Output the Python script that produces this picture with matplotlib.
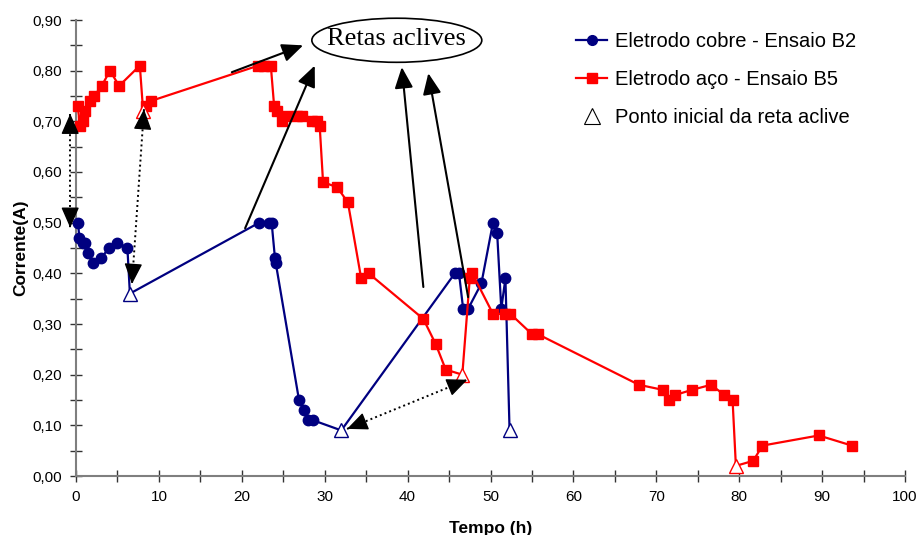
import numpy as np
import matplotlib
matplotlib.use("Agg")
import matplotlib.pyplot as plt
from matplotlib.patches import Ellipse
from matplotlib.ticker import FuncFormatter, MultipleLocator
from matplotlib.lines import Line2D

plt.rcParams['font.family'] = ['Liberation Sans', 'DejaVu Sans']

# Copper electrode (test B2)
cobre_t = [0.25, 0.4, 0.9, 1.1, 1.5, 2.0, 3.0, 4.0, 5.0, 6.2, 6.5,
           22.1, 23.3, 23.6, 24.0, 24.1, 26.9, 27.5, 28.0, 28.6, 32.0,
           45.7, 46.2, 46.7, 47.3, 48.9, 50.3, 50.8, 51.3, 51.8, 52.3]
cobre_i = [0.50, 0.47, 0.46, 0.46, 0.44, 0.42, 0.43, 0.45, 0.46, 0.45, 0.36,
           0.50, 0.50, 0.50, 0.43, 0.42, 0.15, 0.13, 0.11, 0.11, 0.09,
           0.40, 0.40, 0.33, 0.33, 0.38, 0.50, 0.48, 0.33, 0.39, 0.09]
cobre_inicio = [10, 20, 30]   # start points of the rising segments

# Steel electrode (test B5)
aco_t = [0.2, 0.5, 0.8, 1.1, 1.7, 2.2, 3.1, 4.1, 5.2, 7.7, 8.1, 8.5, 9.0,
         22.0, 22.7, 23.5, 23.9, 24.2, 24.9, 25.5, 26.7, 27.3, 28.5, 29.1, 29.4,
         29.8, 31.5, 32.8, 34.4, 35.3, 41.9, 43.4, 44.6, 46.6, 47.5, 47.8,
         50.3, 51.8, 52.4, 55.0, 55.7, 67.9, 70.8, 71.5, 72.3, 74.3, 76.6,
         78.2, 79.2, 79.6, 81.7, 82.8, 89.6, 93.6]
aco_i = [0.73, 0.69, 0.70, 0.72, 0.74, 0.75, 0.77, 0.80, 0.77, 0.81, 0.72, 0.73, 0.74,
         0.81, 0.81, 0.81, 0.73, 0.72, 0.70, 0.71, 0.71, 0.71, 0.70, 0.70, 0.69,
         0.58, 0.57, 0.54, 0.39, 0.40, 0.31, 0.26, 0.21, 0.20, 0.39, 0.40,
         0.32, 0.32, 0.32, 0.28, 0.28, 0.18, 0.17, 0.15, 0.16, 0.17, 0.18,
         0.16, 0.15, 0.02, 0.03, 0.06, 0.08, 0.06]
aco_inicio = [10, 33, 49]

AZUL = '#000080'
VERMELHO = '#ff0000'

fig = plt.figure(figsize=(9.16, 5.35), dpi=100)
ax = fig.add_axes([76 / 916, 1 - 476 / 535, 829 / 916, 456 / 535])


def marcados(n, excl):
    return [k for k in range(n) if k not in excl]


ax.plot(cobre_t, cobre_i, color=AZUL, lw=1.6, marker='o', ms=7.5,
        markevery=marcados(len(cobre_t), cobre_inicio), zorder=3, clip_on=False)
ax.plot(aco_t, aco_i, color=VERMELHO, lw=1.6, marker='s', ms=7.3,
        markevery=marcados(len(aco_t), aco_inicio), zorder=3, clip_on=False)
ax.plot([cobre_t[k] for k in cobre_inicio], [cobre_i[k] for k in cobre_inicio],
        ls='none', marker='^', ms=10, mfc='white', mec=AZUL, mew=1.0, zorder=4)
ax.plot([aco_t[k] for k in aco_inicio], [aco_i[k] for k in aco_inicio],
        ls='none', marker='^', ms=10, mfc='white', mec=VERMELHO, mew=1.0, zorder=4)

ax.set_xlim(0, 100)
ax.set_ylim(0, 0.90)
ax.xaxis.set_major_locator(MultipleLocator(10))
ax.xaxis.set_minor_locator(MultipleLocator(5))
ax.yaxis.set_major_locator(MultipleLocator(0.10))
ax.yaxis.set_minor_locator(MultipleLocator(0.05))
ax.yaxis.set_major_formatter(FuncFormatter(lambda v, p: f"{v:.2f}".replace('.', ',')))
ax.xaxis.set_major_formatter(FuncFormatter(lambda v, p: f"{v:.0f}"))
for s in ('top', 'right'):
    ax.spines[s].set_visible(False)
for s in ('left', 'bottom'):
    ax.spines[s].set_color('#7f7f7f')
    ax.spines[s].set_linewidth(1.5)
ax.tick_params(which='both', direction='inout', length=8, width=1.0, color='#333333',
               labelsize=11, pad=6)
ax.set_xlabel('Tempo (h)', fontsize=12.5, fontweight='bold', labelpad=12)
ax.set_ylabel('Corrente(A)', fontsize=12.5, fontweight='bold', labelpad=3)

cabeca = '-|>,head_length=0.8,head_width=0.35'


def seta_pontilhada(p0, p1):
    """Dotted segment with a solid arrowhead at each end."""
    ax.plot([p0[0], p1[0]], [p0[1], p1[1]], color='black', lw=1.4,
            ls=(0, (1, 1.6)), clip_on=False, zorder=5)
    for ponta, cauda in ((p1, p0), (p0, p1)):
        d_ponta = ax.transData.transform(ponta)
        d_cauda = ax.transData.transform(cauda)
        v = d_cauda - d_ponta
        v = v / np.hypot(*v)
        recuo = ax.transData.inverted().transform(d_ponta + v * 16)
        ax.annotate('', xy=ponta, xytext=recuo, annotation_clip=False, zorder=6,
                    arrowprops=dict(arrowstyle=cabeca, color='black', lw=1.0,
                                    mutation_scale=16, shrinkA=0, shrinkB=0))


# Dotted double-headed arrows linking starting points
seta_pontilhada((-0.7, 0.715), (-0.7, 0.49))
seta_pontilhada((8.2, 0.724), (6.75, 0.379))
seta_pontilhada((32.7, 0.093), (47.2, 0.19))

# Label with arrows pointing from the rising segments
ax.add_patch(Ellipse((38.7, 0.860), 20.5, 0.087, fill=False, ec='black', lw=1.2,
                     clip_on=False, zorder=5))
ax.text(38.7, 0.862, 'Retas aclives', family=['Liberation Serif', 'DejaVu Serif'],
        fontsize=19, ha='center', va='center', zorder=6, clip_on=False)
seta = dict(arrowstyle=cabeca, color='black', lw=1.5, mutation_scale=16,
            shrinkA=0, shrinkB=0)
for (x0, y0), (x1, y1) in [((18.8, 0.797), (27.4, 0.850)),
                           ((20.4, 0.489), (28.8, 0.810)),
                           ((41.9, 0.373), (39.3, 0.807)),
                           ((47.3, 0.353), (42.5, 0.795))]:
    ax.annotate('', xy=(x1, y1), xytext=(x0, y0), arrowprops=seta,
                annotation_clip=False, zorder=5)

handles = [Line2D([], [], color=AZUL, lw=1.6, marker='o', ms=7),
           Line2D([], [], color=VERMELHO, lw=1.6, marker='s', ms=7),
           Line2D([], [], ls='none', marker='^', ms=12, mfc='white', mec='black', mew=0.8)]
labels = ['Eletrodo cobre - Ensaio B2', 'Eletrodo aço - Ensaio B5',
          'Ponto inicial da reta aclive']
fig.legend(handles, labels, loc='upper left', bbox_to_anchor=(566 / 916, 1 - 22 / 535),
           frameon=False, fontsize=14.5, handlelength=1.55, handletextpad=0.4,
           labelspacing=0.95, borderpad=0)

fig.savefig('out.png', dpi=100)
